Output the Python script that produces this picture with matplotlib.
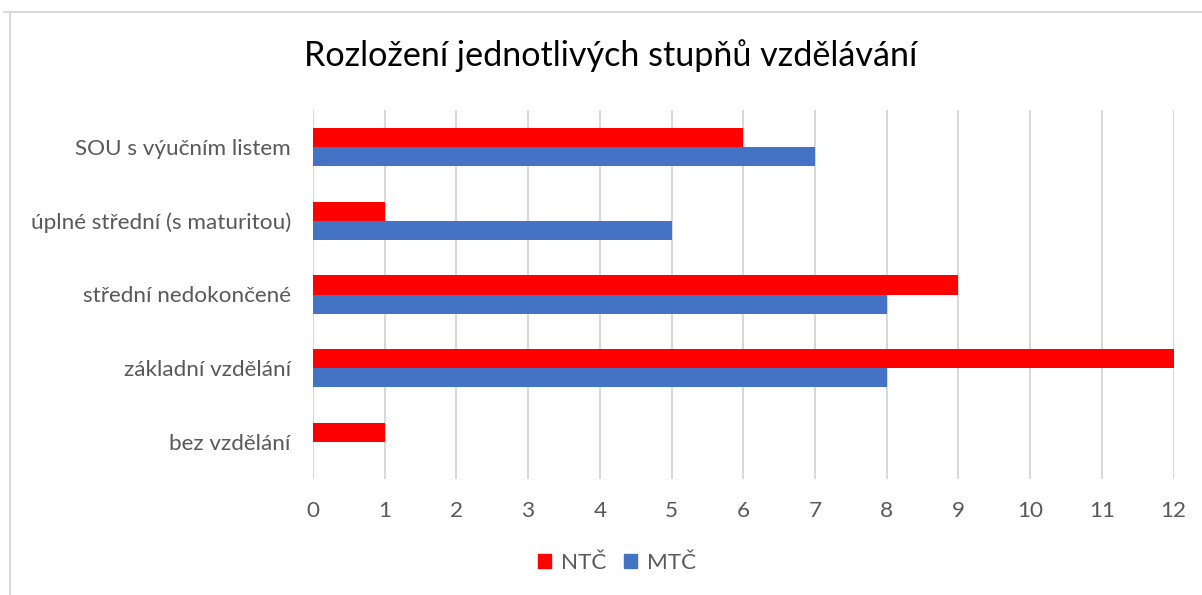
import numpy as np
import matplotlib.pyplot as plt
from matplotlib.lines import Line2D
from matplotlib.patches import Patch

categories = ['bez vzdělání', 'základní vzdělání', 'střední nedokončené',
              'úplné střední (s maturitou)', 'SOU s výučním listem']
ntc = [1, 12, 9, 1, 6]
mtc = [0, 8, 8, 5, 7]
series_names = ['NTČ', 'MTČ']
xticks = list(range(0, 13))

RED = '#FF0000'
BLUE = '#4472C4'
GRID = '#D9D9D9'
TXT = '#595959'

plt.rcParams['font.family'] = ['Lato', 'DejaVu Sans']

fig = plt.figure(figsize=(12.02, 5.95), dpi=100)
ax = fig.add_axes([313 / 1202, 1 - 479 / 595, (1173.5 - 313) / 1202, 369 / 595])

y = np.arange(len(categories))
h = 0.26
ax.barh(y + h / 2, ntc, height=h, color=RED, label=series_names[0], zorder=3)
ax.barh(y - h / 2, mtc, height=h, color=BLUE, label=series_names[1], zorder=3)

ax.set_xlim(0, 12)
ax.set_ylim(-0.5, len(categories) - 0.5)
ax.set_xticks(xticks)
ax.set_yticks(y)
ax.set_yticklabels(categories)
ax.tick_params(axis='both', length=0, labelsize=16.2, labelcolor=TXT)
ax.tick_params(axis='x', pad=16)
ax.tick_params(axis='y', pad=16)
ax.grid(axis='x', color=GRID, linewidth=1.5, zorder=0)
for s in ax.spines.values():
    s.set_visible(False)

fig.text(611 / 1202, 1 - 56 / 595, 'Rozložení jednotlivých stupňů vzdělávání',
         ha='center', va='center', fontsize=24.6, color='black')

handles = [Patch(color=RED), Patch(color=BLUE)]
fig.legend(handles, series_names, loc='center', bbox_to_anchor=(617 / 1202, 1 - 563 / 595),
           ncol=2, frameon=False, fontsize=16.2, labelcolor=TXT,
           handlelength=0.55, handleheight=0.55, handletextpad=0.45, columnspacing=0.8)

# chart border (only top and left visible in the crop)
fig.add_artist(Line2D([4 / 1202, 1], [1 - 11.5 / 595] * 2, color=GRID, linewidth=1.5))
fig.add_artist(Line2D([10 / 1202] * 2, [0, 1 - 11.5 / 595], color=GRID, linewidth=1.5))

fig.savefig('out.png', dpi=100)
